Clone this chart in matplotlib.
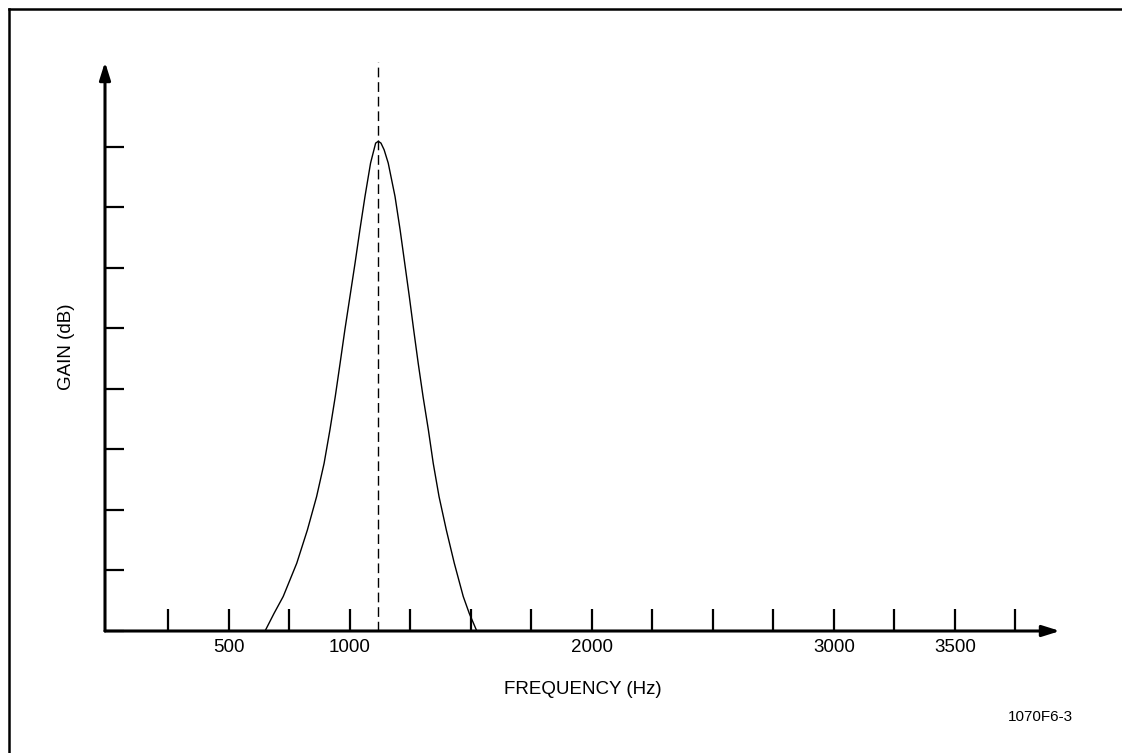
import numpy as np
import matplotlib
matplotlib.use("Agg")
import matplotlib.pyplot as plt
from matplotlib.lines import Line2D

plt.rcParams['font.family'] = ['Liberation Sans', 'DejaVu Sans']

# bandpass response, gain in y-tick units (ticks unlabeled)
freq_hz = [649, 686, 724, 780, 824, 862, 893, 917, 939, 959, 979, 1000, 1021,
           1041, 1062, 1085, 1099, 1106, 1117,
           1128, 1141, 1158, 1186, 1207, 1226, 1245, 1263, 1282, 1302, 1324,
           1344, 1368, 1398, 1431, 1468, 1493, 1524]
gain = [0.0, 0.29, 0.57, 1.12, 1.67, 2.22, 2.77, 3.32, 3.87, 4.42, 4.98, 5.53,
        6.08, 6.63, 7.18, 7.73, 7.95, 8.06, 8.09,
        8.06, 7.95, 7.73, 7.18, 6.63, 6.08, 5.53, 4.98, 4.42, 3.87, 3.32,
        2.77, 2.22, 1.67, 1.12, 0.57, 0.29, 0.0]

center_hz = 1116
x_ticks = [250 * k for k in range(1, 16)]
x_labels = {500: "500", 1000: "1000", 2000: "2000", 3000: "3000", 3500: "3500"}
y_ticks = list(range(0, 9))

W, H = 1122, 753
fig = plt.figure(figsize=(W / 100, H / 100), dpi=100)

# axes box in pixels: y-axis at x=105, x-axis at y=631, arrow tips at x=1060 / y=62
left, right, top, bottom = 105, 1060, 62, 631
ax = fig.add_axes([left / W, (H - bottom) / H, (right - left) / W, (bottom - top) / H])
ax.set_xlim(-12.4, 3934)
ax.set_ylim(0, 9.40)

for s in ax.spines.values():
    s.set_visible(False)

ax.plot(freq_hz, gain, color='black', lw=1.0)
ax.axvline(center_hz, color='black', lw=1.0, dashes=(7, 3.5))

# axis lines with arrow heads
arrow = dict(arrowstyle='-|>,head_length=0.7,head_width=0.22', lw=2.2, color='black',
             mutation_scale=15, shrinkA=0, shrinkB=0)
ax.annotate('', xy=(1, 0), xytext=(0, 0), xycoords='axes fraction', arrowprops=arrow)
ax.annotate('', xy=(0, 1), xytext=(0, 0), xycoords='axes fraction', arrowprops=arrow)

ax.set_xticks(x_ticks)
ax.set_xticklabels([x_labels.get(t, "") for t in x_ticks])
ax.set_yticks(y_ticks)
ax.set_yticklabels([])
ax.tick_params(axis='x', direction='in', length=15.6, width=1.6, pad=6, labelsize=13.5)
ax.tick_params(axis='y', direction='in', length=13.7, width=1.6)

ax.set_xlabel("FREQUENCY (Hz)", fontsize=13.5)
ax.xaxis.set_label_coords(0.5, -0.088)
ax.set_ylabel("GAIN (dB)", fontsize=13.5)
ax.yaxis.set_label_coords(-0.031, 0.5)

fig.text(1040 / W, 1 - 717 / H, "1070F6-3", fontsize=11, ha='center', va='center')

# page frame (top and left edges visible)
fig.add_artist(Line2D([9 / W, 9 / W], [0, 1 - 9 / H], transform=fig.transFigure, color='black', lw=1.8))
fig.add_artist(Line2D([9 / W, 1], [1 - 9 / H, 1 - 9 / H], transform=fig.transFigure, color='black', lw=1.8))

fig.savefig("out.png", dpi=100)
